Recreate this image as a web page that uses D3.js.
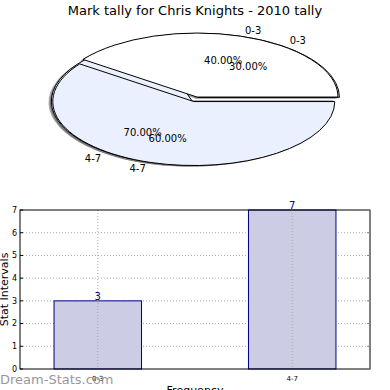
<!DOCTYPE html>
<html>
<head>
<meta charset="utf-8" />
<title>Mark tally</title>
<script src="https://cdn.jsdelivr.net/npm/d3@7"></script>
<style>
  body { margin: 0; background: #fff; }
  svg text { font-family: "DejaVu Sans", sans-serif; }
</style>
</head>
<body>
<div id="chart"></div>
<script>
// data
var titleText = "Mark tally for Chris Knights - 2010 tally";
var intervals = ["0-3", "4-7"];
var tally = [3, 7];
var pieBackShares = [30, 70];   // drawn first (hidden underneath)
var pieFrontShares = [40, 60];  // drawn on top
var yTicks = [0, 1, 2, 3, 4, 5, 6, 7];

var W = 390, H = 390;
var svg = d3.select("#chart").append("svg")
    .attr("width", W).attr("height", H);

svg.append("text")
    .attr("x", 195).attr("y", 15)
    .attr("text-anchor", "middle")
    .attr("font-size", "13px")
    .text(titleText);

// pie - squashed ellipse, matplotlib style (ccw from 3 o'clock)
var cx = 195.4, cy = 99.3, rx = 141, ry = 64, explode = 0.037;
var wedgeColors = ["#ffffff", "#eaf0fd"];

var arcUnit = d3.arc().innerRadius(0).outerRadius(1);

function pieWedges(shares) {
  var total = d3.sum(shares), a = 0;
  return shares.map(function(v, i) {
    var t1 = a, t2 = a + v / total * 2 * Math.PI;
    a = t2;
    var tm = (t1 + t2) / 2;
    return {
      label: intervals[i], pct: v / total * 100, i: i,
      t1: t1, t2: t2, tm: tm,
      ox: explode * Math.cos(tm), oy: -explode * Math.sin(tm)
    };
  });
}

var layers = [pieWedges(pieBackShares), pieWedges(pieFrontShares)];
var pieG = svg.append("g");

// shadows first (lower zorder)
layers.forEach(function(ws) {
  ws.forEach(function(w) {
    pieG.append("path")
      .attr("transform", "translate(" + (cx + (w.ox - 0.02) * rx) + "," + (cy + (w.oy + 0.02) * ry) + ") scale(" + rx + "," + ry + ")")
      .attr("d", arcUnit({startAngle: Math.PI / 2 - w.t2, endAngle: Math.PI / 2 - w.t1}))
      .attr("fill", "rgba(77,77,77,0.5)");
  });
});

layers.forEach(function(ws) {
  ws.forEach(function(w) {
    pieG.append("path")
      .attr("transform", "translate(" + (cx + w.ox * rx) + "," + (cy + w.oy * ry) + ") scale(" + rx + "," + ry + ")")
      .attr("d", arcUnit({startAngle: Math.PI / 2 - w.t2, endAngle: Math.PI / 2 - w.t1}))
      .attr("fill", wedgeColors[w.i])
      .attr("stroke", "#000")
      .attr("stroke-width", 1)
      .attr("vector-effect", "non-scaling-stroke");
  });
});

layers.forEach(function(ws) {
  ws.forEach(function(w) {
    var c = Math.cos(w.tm), s = Math.sin(w.tm);
    var bx = cx + w.ox * rx, by = cy + w.oy * ry;
    pieG.append("text")
      .attr("x", bx + 1.1 * c * rx)
      .attr("y", by - 1.1 * s * ry)
      .attr("dy", "0.35em")
      .attr("text-anchor", c > 0 ? "start" : "end")
      .attr("font-size", "10px")
      .text(w.label);
    pieG.append("text")
      .attr("x", bx + 0.6 * c * rx)
      .attr("y", by - 0.6 * s * ry)
      .attr("dy", "0.35em")
      .attr("text-anchor", "middle")
      .attr("font-size", "10px")
      .text(w.pct.toFixed(2) + "%");
  });
});

// bar chart
var plotL = 20, plotR = 370, plotT = 210, plotB = 369;
var x = d3.scaleLinear().domain([-0.4, 1.4]).range([plotL, plotR]);
var y = d3.scaleLinear().domain([0, 7]).range([plotB, plotT]);
var barW = 0.45;

var g = svg.append("g");

// grid
g.selectAll(".hgrid").data(yTicks.slice(1, -1)).enter().append("line")
    .attr("x1", plotL).attr("x2", plotR)
    .attr("y1", function(d) { return y(d); }).attr("y2", function(d) { return y(d); })
    .attr("stroke", "#aaa").attr("stroke-dasharray", "1,2");

g.selectAll(".bar").data(tally).enter().append("rect")
    .attr("x", function(d, i) { return x(i - barW / 2); })
    .attr("y", function(d) { return y(d); })
    .attr("width", x(barW) - x(0))
    .attr("height", function(d) { return plotB - y(d); })
    .attr("fill", "#ccccE4")
    .attr("stroke", "#000080")
    .attr("stroke-width", 1);

g.selectAll(".vgrid").data(intervals).enter().append("line")
    .attr("x1", function(d, i) { return x(i); }).attr("x2", function(d, i) { return x(i); })
    .attr("y1", plotT).attr("y2", plotB)
    .attr("stroke", "#aaa").attr("stroke-dasharray", "1,2");

g.selectAll(".val").data(tally).enter().append("text")
    .attr("x", function(d, i) { return x(i); })
    .attr("y", function(d) { return y(d) - 1; })
    .attr("text-anchor", "middle")
    .attr("font-size", "10px")
    .attr("fill", "#000080")
    .text(function(d) { return d; });

// frame
g.append("rect")
    .attr("x", plotL).attr("y", plotT)
    .attr("width", plotR - plotL).attr("height", plotB - plotT)
    .attr("fill", "none").attr("stroke", "#000").attr("stroke-width", 1);

// y axis ticks + labels
g.selectAll(".ytl").data(yTicks).enter().append("text")
    .attr("x", plotL - 3)
    .attr("y", function(d) { return y(d); })
    .attr("dy", "0.35em")
    .attr("text-anchor", "end")
    .attr("font-size", "8px")
    .text(function(d) { return d; });
g.selectAll(".ytk").data(yTicks).enter().append("line")
    .attr("x1", plotL).attr("x2", plotL + 3)
    .attr("y1", function(d) { return y(d); }).attr("y2", function(d) { return y(d); })
    .attr("stroke", "#000");
g.selectAll(".ytkr").data(yTicks).enter().append("line")
    .attr("x1", plotR - 3).attr("x2", plotR)
    .attr("y1", function(d) { return y(d); }).attr("y2", function(d) { return y(d); })
    .attr("stroke", "#888");

g.selectAll(".xtl").data(intervals).enter().append("text")
    .attr("x", function(d, i) { return x(i); })
    .attr("y", plotB + 12)
    .attr("text-anchor", "middle")
    .attr("font-size", "7px")
    .text(function(d) { return d; });

svg.append("text")
    .attr("transform", "translate(8," + ((plotT + plotB) / 2) + ") rotate(-90)")
    .attr("text-anchor", "middle")
    .attr("font-size", "11px")
    .text("Stat Intervals");

svg.append("text")
    .attr("x", (plotL + plotR) / 2).attr("y", 394)
    .attr("text-anchor", "middle")
    .attr("font-size", "11px")
    .text("Frequency");

svg.append("text")
    .attr("x", 0).attr("y", 384)
    .attr("font-size", "13px")
    .attr("fill", "#999")
    .text("Dream-Stats.com");
</script>
</body>
</html>
